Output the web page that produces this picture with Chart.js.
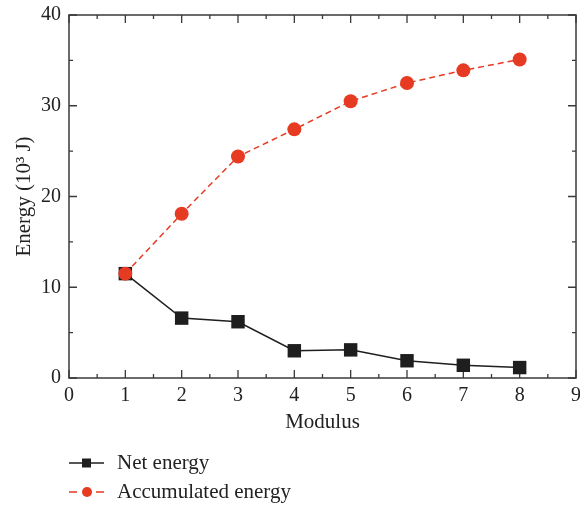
<!DOCTYPE html>
<html>
<head>
<meta charset="utf-8">
<script src="https://cdn.jsdelivr.net/npm/chart.js@4.4.1/dist/chart.umd.min.js"></script>
<style>
  html, body { margin: 0; padding: 0; background: #fff; }
  canvas { display: block; }
</style>
</head>
<body>
<canvas id="energyChart" width="580" height="506"></canvas>
<script>
// values
var modulus = [1, 2, 3, 4, 5, 6, 7, 8];
var netEnergy = [11.5, 6.6, 6.2, 3.0, 3.1, 1.9, 1.4, 1.15];
var accumulatedEnergy = [11.5, 18.1, 24.4, 27.4, 30.5, 32.5, 33.9, 35.1];
var seriesNames = ["Net energy", "Accumulated energy"];
var xTicks = [0, 1, 2, 3, 4, 5, 6, 7, 8, 9];
var yTicks = [0, 10, 20, 30, 40];

var FONT = "'Liberation Serif', 'DejaVu Serif', serif";
var RED = "#e63a22";
var BLACK = "#1e1e1e";
var AXIS = "#3a3a3a";

function toPoints(xs, ys) {
  var pts = [];
  for (var i = 0; i < xs.length; ++i) {
    pts.push({x: xs[i], y: ys[i]});
  }
  return pts;
}

// frame with inward major/minor ticks on all four sides
var framePlugin = {
  id: "frame",
  beforeDatasetsDraw: function (chart) {
    var ctx = chart.ctx;
    var a = chart.chartArea;
    var xs = chart.scales.x, ys = chart.scales.y;
    ctx.save();
    ctx.strokeStyle = AXIS;
    ctx.lineWidth = 1.5;
    ctx.strokeRect(a.left, a.top, a.right - a.left, a.bottom - a.top);
    ctx.lineWidth = 1.3;
    ctx.beginPath();
    for (var v = xTicks[0]; v <= xTicks[xTicks.length - 1]; v += 0.5) {
      var px = xs.getPixelForValue(v);
      var len = (v % 1 === 0) ? 8 : 4;
      ctx.moveTo(px, a.bottom); ctx.lineTo(px, a.bottom - len);
      ctx.moveTo(px, a.top); ctx.lineTo(px, a.top + len);
    }
    for (var w = yTicks[0]; w <= yTicks[yTicks.length - 1]; w += 5) {
      var py = ys.getPixelForValue(w);
      var l2 = (w % 10 === 0) ? 8 : 4;
      ctx.moveTo(a.left, py); ctx.lineTo(a.left + l2, py);
      ctx.moveTo(a.right, py); ctx.lineTo(a.right - l2, py);
    }
    ctx.stroke();
    ctx.restore();
  }
};

// legend under the plot: line sample with marker in the middle
var legendPlugin = {
  id: "lineLegend",
  afterDraw: function (chart) {
    var ctx = chart.ctx;
    var rows = [
      {ds: chart.data.datasets[1], y: 463},
      {ds: chart.data.datasets[0], y: 492}
    ];
    ctx.save();
    ctx.font = "21px " + FONT;
    ctx.textBaseline = "middle";
    rows.forEach(function (row) {
      var ds = row.ds;
      ctx.strokeStyle = ds.borderColor;
      ctx.lineWidth = 1.5;
      ctx.beginPath();
      if (ds.borderDash) {
        ctx.moveTo(69, row.y); ctx.lineTo(77, row.y);
        ctx.moveTo(96, row.y); ctx.lineTo(104, row.y);
      } else {
        ctx.moveTo(69, row.y); ctx.lineTo(104, row.y);
      }
      ctx.stroke();
      ctx.fillStyle = ds.pointBackgroundColor;
      if (ds.pointStyle === "rect") {
        ctx.fillRect(82, row.y - 4.5, 9, 9);
      } else {
        ctx.beginPath();
        ctx.arc(87, row.y, 5, 0, Math.PI * 2);
        ctx.fill();
      }
      ctx.fillStyle = "#222";
      ctx.fillText(ds.label, 117, row.y);
    });
    ctx.restore();
  }
};

var ctx = document.getElementById("energyChart");

var energyChart = new Chart(ctx, {
  type: "scatter",
  data: {
    datasets: [{
      label: seriesNames[1],
      data: toPoints(modulus, accumulatedEnergy),
      showLine: true,
      borderColor: RED,
      borderWidth: 1.5,
      borderDash: [6, 4],
      pointStyle: "circle",
      pointRadius: 7,
      pointBackgroundColor: RED,
      pointBorderWidth: 0,
      order: 1
    }, {
      label: seriesNames[0],
      data: toPoints(modulus, netEnergy),
      showLine: true,
      borderColor: BLACK,
      borderWidth: 1.5,
      pointStyle: "rect",
      pointRadius: 9.5,
      pointBackgroundColor: BLACK,
      pointBorderWidth: 0,
      order: 2
    }]
  },
  options: {
    responsive: false,
    animation: false,
    devicePixelRatio: 1,
    layout: {autoPadding: false, padding: {left: 0, right: 4, top: 15, bottom: 70}},
    plugins: {
      legend: {display: false},
      tooltip: {enabled: false}
    },
    scales: {
      x: {
        type: "linear",
        min: xTicks[0],
        max: xTicks[xTicks.length - 1],
        grid: {display: false, drawTicks: false},
        border: {display: false},
        ticks: {
          stepSize: 1,
          padding: 6,
          color: "#222",
          font: {family: FONT, size: 20},
          maxRotation: 0
        },
        title: {
          display: true,
          text: "Modulus",
          color: "#222",
          font: {family: FONT, size: 21},
          padding: {top: 0, bottom: 1}
        },
        afterFit: function (scale) {
          scale.height = 58;
          scale.paddingLeft = 0;
          scale.paddingRight = 0;
        }
      },
      y: {
        type: "linear",
        min: yTicks[0],
        max: yTicks[yTicks.length - 1],
        grid: {display: false, drawTicks: false},
        border: {display: false},
        ticks: {
          stepSize: 10,
          padding: 8,
          color: "#222",
          font: {family: FONT, size: 20}
        },
        title: {
          display: true,
          text: "Energy (10\u00B3 J)",
          color: "#222",
          font: {family: FONT, size: 21},
          padding: {top: 12, bottom: 0}
        },
        afterFit: function (scale) {
          scale.width = 69;
          scale.paddingTop = 0;
          scale.paddingBottom = 0;
        }
      }
    }
  },
  plugins: [framePlugin, legendPlugin]
});
</script>
</body>
</html>
